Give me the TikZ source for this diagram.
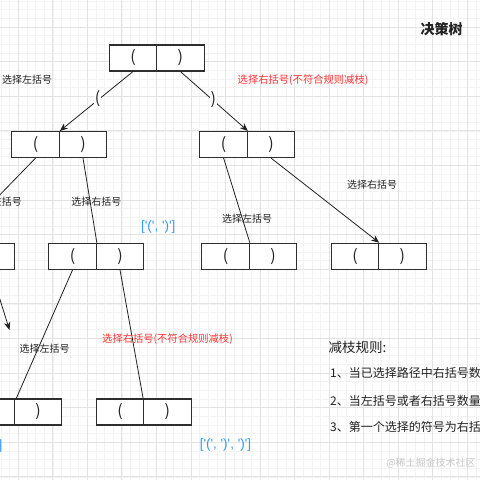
\documentclass[tikz,border=0pt]{standalone}
\usepackage{fontspec}
\setmainfont{Noto Sans CJK SC}
\newfontfamily\latf{Liberation Sans}
\usetikzlibrary{arrows.meta}
\definecolor{gmin}{HTML}{F3F3F3}
\definecolor{gmaj}{HTML}{E3E3E3}
\definecolor{boxc}{HTML}{2E2E2E}
\definecolor{txt}{HTML}{222222}
\definecolor{redt}{HTML}{FF3333}
\definecolor{bluet}{HTML}{3399FF}
\definecolor{wm}{HTML}{C8C8C8}
\newcommand{\sq}{\textquotesingle}
\tikzset{
  half/.style={draw=boxc, line width=1.1pt, minimum width=47.4pt, minimum height=26pt,
    inner sep=0pt, fill=white, text=txt, font=\fontsize{16}{16}\selectfont},
  conn/.style={draw=txt, line width=0.8pt},
  arr/.style={conn, -{Stealth[length=8pt,width=6.5pt]}},
  lab/.style={inner sep=0pt, text=txt, font=\fontsize{10}{12}\selectfont},
  redlab/.style={lab, text=redt, font=\fontsize{10.3}{12}\selectfont},
  bluelab/.style={inner sep=0pt, text=bluet, font=\latf\fontsize{13.5}{14}\selectfont},
  elab/.style={fill=white, inner sep=1pt, text=txt, font=\fontsize{16}{16}\selectfont},
  rule/.style={inner sep=0pt, anchor=west, text=txt, font=\fontsize{12}{14}\selectfont},
}
\begin{document}
\begin{tikzpicture}[x=1pt,y=-1pt]
\useasboundingbox (0,0) rectangle (480,480);
\fill[white] (0,0) rectangle (480,480);
% grid
\foreach \i in {-3,...,55} {
  \draw[gmin, line width=0.6pt] ({18.3+8.633*\i},0) -- ({18.3+8.633*\i},480);
  \draw[gmin, line width=0.6pt] (0,{27.0+8.65*\i}) -- (480,{27.0+8.65*\i});
}
\foreach \i in {-1,...,13} {
  \draw[gmaj, line width=0.8pt] ({18.3+34.53*\i},0) -- ({18.3+34.53*\i},480);
  \draw[gmaj, line width=0.8pt] (0,{27.0+34.6*\i}) -- (480,{27.0+34.6*\i});
}

% boxes
\node[half] (rL) at (133.0,58) {(};
\node[half] (rR) at (180.4,58) {)};
\node[half] (aL) at (35.6,144.5) {(};
\node[half] (aR) at (83.0,144.5) {)};
\node[half] (bL) at (223.6,144.5) {(};
\node[half] (bR) at (271.0,144.5) {)};
\node[half] (cL) at (-56.7,256.3) {(};
\node[half] (cR) at (-9.3,256.3) {)};
\node[half] (dL) at (72.6,256.3) {(};
\node[half] (dR) at (120.0,256.3) {)};
\node[half] (eL) at (225.6,256.3) {(};
\node[half] (eR) at (273.0,256.3) {)};
\node[half] (fL) at (355.0,256.3) {(};
\node[half] (fR) at (402.4,256.3) {)};
\node[half] (gL) at (-9.3,412) {(};
\node[half] (gR) at (38.1,412) {)};
\node[half] (hL) at (120.0,412) {(};
\node[half] (hR) at (167.4,412) {)};

\coordinate (cEnd) at (9.5,330);

% connectors
\draw[arr] (rL.south) -- (aL.north east);
\draw[arr] (rR.south) -- (bL.north east);
\draw[conn] (aL.south) -- ([xshift=10pt]cL.north);
\draw[conn] (aR.south) -- (dL.north east);
\draw[conn] (bL.south) -- (eL.north east);
\draw[arr] (bR.south) -- (fL.north east);
\draw[arr] (cR.south) -- (cEnd);
\draw[conn] (dL.south) -- ([xshift=2.4pt]gR.north west);
\draw[conn] (dR.south) -- (hR.north west);

% edge labels
\node[elab] (pl) at (97.7,99) {(};
\node[elab] (pr) at (213.3,100) {)};

% texts
\node[inner sep=0pt, text=txt, font=\fontsize{14}{16}\selectfont\bfseries] (title) at (441.7,29) {决策树};
\node[lab] (t1) at (27.2,80) {选择左括号};
\node[redlab] (t2) at (303,80) {选择右括号(不符合规则减枝)};
\node[lab] (t3) at (-3,201.7) {选择左括号};
\node[lab] (t4) at (96.3,201.7) {选择右括号};
\node[bluelab] (t5) at (158.3,226.7) {[\sq(\sq, \sq)\sq]};
\node[lab] (t6) at (247.2,218.3) {选择左括号};
\node[lab] (t7) at (372,185) {选择右括号};
\node[lab] (t8) at (44.7,348.3) {选择左括号};
\node[redlab] (t9) at (167.5,339.3) {选择右括号(不符合规则减枝)};
\node[bluelab, anchor=east] (t10) at (2.5,446) {[\sq(\sq, \sq)\sq, \sq(\sq]};
\node[bluelab] (t11) at (225.5,445) {[\sq(\sq, \sq)\sq, \sq)\sq]};

\node[rule, font=\fontsize{13.5}{15}\selectfont] (r0) at (328.3,347.3) {减枝规则:};
\node[rule] (r1) at (330,373.3) {1、当已选择路径中右括号数};
\node[rule] (r2) at (330,401) {2、当左括号或者右括号数量};
\node[rule] (r3) at (330,426.7) {3、第一个选择的符号为右括};

\node[inner sep=0pt, text=wm, font=\fontsize{10}{12}\selectfont] (wmk) at (431,463.3) {@稀土掘金技术社区};
\end{tikzpicture}
\end{document}
